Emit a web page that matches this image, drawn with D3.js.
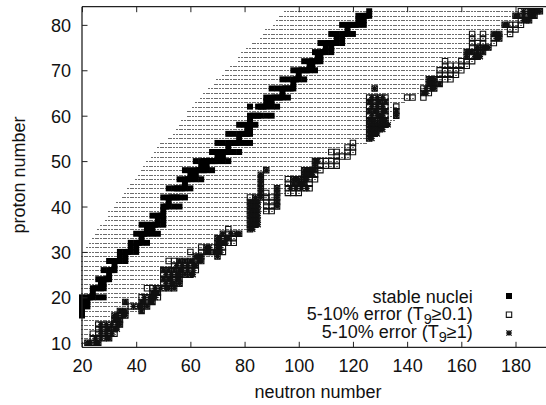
<!DOCTYPE html>
<html><head><meta charset="utf-8">
<script src="https://cdn.jsdelivr.net/npm/d3@7"></script>
<style>html,body{margin:0;padding:0;background:#fff}svg{display:block}text{font-family:"Liberation Sans",Arial,sans-serif;fill:#111}</style>
</head><body><svg id="c" width="546" height="405"></svg>
<script>
const xTicks=[20,40,60,80,100,120,140,160,180];
const yTicks=[10,20,30,40,50,60,70,80];
const xLabel="neutron number", yLabel="proton number";
const protonRows=[10,11,12,13,14,15,16,17,18,19,20,21,22,23,24,25,26,27,28,29,30,31,32,33,34,35,36,37,38,39,40,41,42,43,44,45,46,47,48,49,50,51,52,53,54,55,56,57,58,59,60,61,62,63,64,65,66,67,68,69,70,71,72,73,74,75,76,77,78,79,80,81,82,83];
const networkMin=[20,20,20,20,20,20,20,20,20,20,20,20,20,20,20,20,20,20,20,20,21,22,23,24,25,26,27,29,30,30,32,33,35,36,37,38,40,41,42,43,44,46,47,48,49,52,54,55,56,57,59,59,61,62,64,65,67,69,70,72,73,75,78,78,79,81,83,86,87,88,91,92,93,95];
const networkMax=[26,30,32,32,34,34,36,42,44,46,48,48,54,56,56,61,62,62,64,70,72,72,76,76,78,83,85,85,85,90,92,92,92,100,103,103,106,106,108,114,114,118,120,120,125,127,129,131,133,135,136,136,136,139,142,148,150,152,156,158,160,162,164,166,168,170,172,174,178,180,182,185,187,189];
const stable=[[83,[126]],[82,[122,124,125,126]],[81,[122,124]],[80,[116,118,119,120,121,122,124]],[79,[118]],[78,[112,114,116,117,118,120]],[77,[114,116]],[76,[108,110,111,112,113,114,116]],[75,[110,112]],[74,[106,108,109,110,112]],[73,[107,108]],[72,[102,104,105,106,107,108]],[71,[104,105]],[70,[98,100,101,102,103,104,106]],[69,[100]],[68,[94,96,98,99,100,102]],[67,[98]],[66,[90,92,94,95,96,97,98]],[65,[94]],[64,[88,90,91,92,93,94,96]],[63,[88,90]],[62,[82,85,86,87,88,90,92]],[60,[82,83,84,85,86,88,90]],[59,[82]],[58,[78,80,82,84]],[57,[81,82]],[56,[74,76,78,79,80,81,82]],[55,[78]],[54,[70,72,74,75,76,77,78,80,82]],[53,[74]],[52,[68,70,71,72,73,74,76,78]],[51,[70,72]],[50,[62,64,65,66,67,68,69,70,72,74]],[49,[64,66]],[48,[58,60,62,63,64,65,66,68]],[47,[60,62]],[46,[56,58,59,60,62,64]],[45,[58]],[44,[52,54,55,56,57,58,60]],[42,[50,52,53,54,55,56,58]],[41,[52]],[40,[50,51,52,54,56]],[39,[50]],[38,[46,48,49,50]],[37,[48,50]],[36,[42,44,46,47,48,50]],[35,[44,46]],[34,[40,42,43,44,46,48]],[33,[42]],[32,[38,40,41,42,44]],[31,[38,40]],[30,[34,36,37,38,40]],[29,[34,36]],[28,[30,32,33,34,36]],[27,[32]],[26,[28,30,31,32]],[25,[30]],[24,[26,28,29,30]],[23,[27,28]],[22,[24,25,26,27,28]],[21,[24]],[20,[20,22,23,24,26,28]],[19,[20,21,22]],[18,[20,22]],[17,[20]],[16,[20]]];
const err01=[[83,[182,184,186,188,189]],[82,[180,182,184,186,187]],[81,[182,184,185]],[80,[176,178,180,182]],[79,[178,180]],[78,[164,168,172,174,178]],[77,[164,168,172,174]],[76,[164,166,168,172]],[75,[164,166,168,170]],[74,[162,164,166,168]],[73,[162,164,166]],[72,[154,160,162,164]],[71,[154,156,158,160,162]],[70,[152,154,156,158,160]],[69,[152,154,156,158]],[68,[148,150,152,154,156]],[67,[148,150,152]],[66,[128,146,148,150]],[65,[146,148]],[64,[126,128,130,132,140,142,146]],[63,[126,128,130,132]],[62,[126,128,130,132,136]],[61,[126,128,130,132,136]],[60,[126,128,130,132,136]],[59,[126,128,130,132]],[58,[126,128,130,132]],[57,[126,128,130]],[56,[126,128]],[55,[126]],[54,[120]],[53,[118,120]],[52,[112,114,118,120]],[51,[114,116,118]],[50,[106,108,110,112,114]],[49,[106,108,110,112,114]],[48,[88,102,104,106,108]],[47,[86,102,104,106]],[46,[86,96,98,100,102,104,106]],[45,[86,96,98,100,102,104]],[44,[86,92,96,98,100,102,104]],[43,[86,88,92,96,98,100]],[42,[82,84,86,88,90,92]],[41,[82,84,88,90,92]],[40,[82,84,88,90,92]],[39,[82,84,88,90]],[38,[82,84]],[37,[82,84]],[36,[82,84]],[35,[74,82]],[34,[72,74,76,78]],[33,[70,72,74,76]],[32,[70,72,74,76]],[31,[64,66,68,70,72]],[30,[60,64,66,68,70,72]],[29,[62,64,70]],[28,[52,54,56,58,60,62,64]],[27,[54,56,58,60,62]],[26,[50,52,54,56,58,60,62]],[25,[50,52,54,56,58,60]],[24,[50,52,54,56]],[23,[50,52,54,56]],[22,[44,46,48,50,52,54]],[21,[46,48]],[20,[42,44,46,48]],[19,[36,42,44,46]],[18,[38,40,42,44]],[17,[34,36,42]],[16,[32,34,36]],[15,[32,34]],[14,[26,28,30,32,34]],[13,[26,28,30,32]],[12,[24,26,28,30,32]],[11,[24,26,28,30]],[10,[22,24,26]]];
const err1=[[83,[183,185,186,187,188,189]],[82,[180,181,183,185,186,187]],[81,[183,184,185]],[80,[176,177]],[78,[172,173,174]],[77,[173,174]],[75,[166,168,169,170]],[74,[162,163,164,166,168]],[73,[162,165,166,167]],[68,[148,149,150]],[67,[148,149,150,152]],[66,[128,147,149,150]],[65,[146,147]],[64,[127,129,131]],[63,[126,127,129,130,132]],[62,[127,129,131]],[61,[126,128,129,131,132,136]],[60,[127,129,130,131,136]],[59,[126,127,128,130,131,132]],[58,[126,127,128,129,130,131,132,133]],[57,[126,127,128,129,130,131]],[56,[126,127,128,129]],[55,[126,127]],[50,[106,107]],[49,[106]],[48,[88,102,103,104,105,106]],[47,[86,102,103,104,105]],[46,[86,98,99,100,102,103]],[45,[86,98,100,101,102]],[44,[86,92,97,99,101,103]],[43,[86,92]],[42,[84,86,92]],[41,[82,83,84,85,92]],[40,[82,83,84,85,92]],[39,[82,83,84,85]],[38,[82,83,84,85]],[37,[82,83,84,85]],[36,[82,83,84,85]],[35,[82,83]],[34,[72,75,77,78]],[33,[70,71,73,74]],[32,[70,71,72,73]],[31,[66,67,70,71]],[30,[66,67,69,70,71]],[29,[62,63,64,70]],[28,[56,58,60,61,63,64]],[27,[55,57,59,61,62]],[26,[50,52,54,56,57,59,61]],[25,[51,53,55,56,58,60,61]],[24,[50,52,53,55,56]],[23,[51,53,54,56]],[22,[47,49,51,52,54]],[21,[46,47,48]],[20,[43,45,46,47]],[19,[36,42,43,45,46]],[18,[39,41,42,44]],[17,[34,35,36,42]],[16,[32,33,35,36]],[15,[32,33,34]],[14,[27,29,31,33,34]],[13,[27,29,30,32,33]],[12,[27,29,31]],[11,[25,27,29,30]],[10,[22,23,25,26]]];
const legendLabels=["stable nuclei","5-10% error (T","5-10% error (T"];
const legendTail=["","≥0.1)","≥1)"];

const svg=d3.select("#c");
const x=d3.scaleLinear().domain([20,190]).range([82,542.6]);
const y=d3.scaleLinear().domain([9,84]).range([347.3,6.7]);
const flat=rows=>rows.flatMap(([z,ns])=>ns.map(n=>({n,z})));

const hatch=protonRows.flatMap((z,i)=>d3.range(networkMin[i],networkMax[i]+1).map(n=>({n,z})));
svg.append("g").selectAll("rect").data(hatch).join("rect")
 .attr("x",d=>Math.round(x(d.n))-1).attr("y",d=>Math.round(y(d.z))).attr("width",2).attr("height",1)
 .attr("fill","#6c6c6c").attr("shape-rendering","crispEdges");

const S=3, O=2.7;
const sqPath=`M${-S},${-S}H${S}V${S}H${-S}Z`;
const openPath=`M${-O},${-O}H${O}V${O}H${-O}Z`;
const starPath=`M-2.6,-2.6L2.6,2.6M-2.6,2.6L2.6,-2.6M0,-2.8V2.8M-2.8,0H2.8`;
function openSq(sel){sel.attr("d",openPath).attr("fill","none").attr("stroke","#111").attr("stroke-width",1.1);}
function solid(sel){sel.attr("d",sqPath).attr("fill","#000");}
function star(sel){sel.attr("d",starPath).attr("fill","none").attr("stroke","#111").attr("stroke-width",1.3);}
const pos=d=>`translate(${x(d.n)},${y(d.z)})`;

svg.append("g").selectAll("path").data(flat(stable)).join("path").attr("transform",pos).call(solid);
svg.append("g").selectAll("path").data(flat(err01)).join("path").attr("transform",pos).call(openSq);
svg.append("g").selectAll("path").data(flat(err1)).join("path").attr("transform",pos).call(star);

// axes
const ax=svg.append("g").attr("transform","translate(0,347.3)")
 .call(d3.axisBottom(x).tickValues(xTicks).tickSize(-5.5).tickPadding(0).tickFormat(d3.format("d")));
ax.select(".domain").remove();
ax.selectAll("text").attr("y",25).attr("dy",0).style("font-size","18px").attr("text-anchor","middle");
const axT=svg.append("g").attr("transform","translate(0,6.7)")
 .call(d3.axisTop(x).tickValues(xTicks).tickSize(-5.5).tickFormat(""));
axT.select(".domain").remove();
const ay=svg.append("g").attr("transform","translate(82,0)")
 .call(d3.axisLeft(y).tickValues(yTicks).tickSize(-5.5).tickFormat(d3.format("d")));
ay.select(".domain").remove();
ay.selectAll("text").attr("x",-11).attr("dy","0.36em").style("font-size","18px");
svg.selectAll(".tick line").attr("stroke","#222").attr("stroke-width",1);
[[82,6.7,546,6.7],[82,347.3,546,347.3],[82,6.7,82,347.3]].forEach(l=>{
 svg.append("line").attr("x1",l[0]).attr("y1",l[1]).attr("x2",l[2]).attr("y2",l[3]).attr("stroke","#222").attr("stroke-width",1.3);
});

svg.append("text").attr("x",318).attr("y",398).attr("text-anchor","middle").style("font-size","18px").text(xLabel);
svg.append("text").attr("transform","translate(25,175) rotate(-90)").attr("text-anchor","middle").style("font-size","18px").text(yLabel);

// legend
const ly=[302.5,319.5,337.5], my=[296,314.7,333];
legendLabels.forEach((t,i)=>{
 const tx=svg.append("text").attr("x",472.7).attr("y",ly[i]).attr("text-anchor","end").style("font-size","18px");
 tx.append("tspan").text(t);
 if(i>0){
  tx.append("tspan").attr("dy",4).style("font-size","14.5px").text("9");
  tx.append("tspan").attr("dy",-4).text(legendTail[i]);
 }
});
svg.append("path").attr("transform",`translate(509,${my[0]})`).call(solid);
svg.append("path").attr("transform",`translate(509,${my[1]})`).call(openSq);
svg.append("path").attr("transform",`translate(509,${my[2]})`).call(star);
</script></body></html>
